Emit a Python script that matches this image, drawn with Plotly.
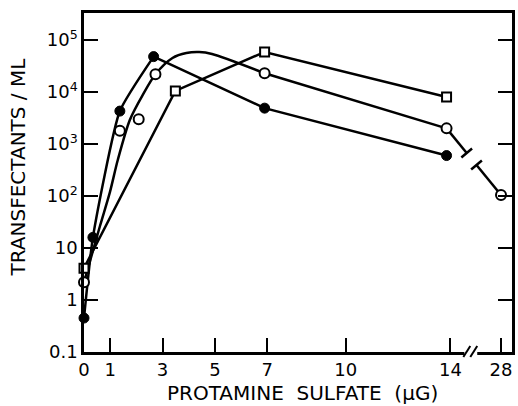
import math
import plotly.graph_objects as go

# ---------------- data ----------------
filled_x = [0, 0.34, 1.37, 2.66, 6.9, 13.85]
filled_y = [0.45, 16, 4300, 48000, 4900, 600]

open_x = [0, 1.37, 2.09, 2.73, 6.9, 13.85, 28]
open_y = [2.2, 1800, 3000, 22000, 23000, 2000, 105]

square_x = [0, 3.49, 6.9, 13.85]
square_y = [4.1, 10500, 59000, 8000]

# smooth curve drawn through the open-circle series
open_curve_x = [0, 0.61, 0.99, 1.29, 1.75, 2.24, 2.73, 3.38, 3.91, 4.40, 4.89, 6.9]
open_curve_y = [2.2, 26.5, 119, 492, 2900, 8750, 22000, 45100, 56200, 58700, 53800, 23000]

x_tick_vals = [0, 1, 3, 5, 7, 10, 14, 28]
x_tick_text = ["0", "1", "3", "5", "7", "10", "14", "28"]
y_tick_vals = [0.1, 1, 10, 100, 1000, 10000, 100000]
y_tick_text = ["0.1", "1", "10", "10<sup>2</sup>", "10<sup>3</sup>",
               "10<sup>4</sup>", "10<sup>5</sup>"]

# ---------------- broken x axis ----------------
BREAK_AT = 14.0
BROKEN_POS = 15.93      # axis position where the value 28 is drawn
X_RANGE = [0, 16.35]
Y_RANGE_LOG = [-1, 5.52]


def bx(v):
    return v if v <= BREAK_AT else BROKEN_POS + (v - 28) * 0.05


W, H = 518, 406
ML, MR, MT, MB = 84, 3, 13, 54
PW, PH = W - ML - MR, H - MT - MB


def to_px(x, y):
    px = ML + (x - X_RANGE[0]) / (X_RANGE[1] - X_RANGE[0]) * PW
    py = MT + (Y_RANGE_LOG[1] - math.log10(y)) / (Y_RANGE_LOG[1] - Y_RANGE_LOG[0]) * PH
    return px, py


def from_px(px, py):
    x = X_RANGE[0] + (px - ML) / PW * (X_RANGE[1] - X_RANGE[0])
    ly = Y_RANGE_LOG[1] - (py - MT) / PH * (Y_RANGE_LOG[1] - Y_RANGE_LOG[0])
    return x, 10 ** ly


LW = 2.5
BLACK = "black"
fig = go.Figure()

# filled circle series: smooth rise, straight decline
fig.add_trace(go.Scatter(x=[bx(v) for v in filled_x[:4]], y=filled_y[:4], mode="lines",
                         line=dict(color=BLACK, width=LW, shape="spline", smoothing=0.5),
                         cliponaxis=False, hoverinfo="skip"))
fig.add_trace(go.Scatter(x=[bx(v) for v in filled_x[3:]], y=filled_y[3:], mode="lines",
                         line=dict(color=BLACK, width=LW), cliponaxis=False, hoverinfo="skip"))

# open circle series: smooth curve, then straight lines
fig.add_trace(go.Scatter(x=open_curve_x, y=open_curve_y, mode="lines",
                         line=dict(color=BLACK, width=LW, shape="spline", smoothing=0.8),
                         cliponaxis=False, hoverinfo="skip"))
fig.add_trace(go.Scatter(x=[bx(v) for v in open_x[4:6]], y=open_y[4:6], mode="lines",
                         line=dict(color=BLACK, width=LW), cliponaxis=False, hoverinfo="skip"))

# broken segment between 14 and 28 with break strokes
p_a = to_px(bx(open_x[5]), open_y[5])
p_b = to_px(bx(open_x[6]), open_y[6])
dx, dy = p_b[0] - p_a[0], p_b[1] - p_a[1]
L = math.hypot(dx, dy)
ux, uy = dx / L, dy / L
nx, ny = uy, -ux
seg_x, seg_y = [], []
for t0, t1 in [(0.0, 0.37), (0.55, 1.0)]:
    for t in (t0, t1):
        xx, yy = from_px(p_a[0] + dx * t, p_a[1] + dy * t)
        seg_x.append(xx)
        seg_y.append(yy)
    seg_x.append(None)
    seg_y.append(None)
for t in (0.37, 0.55):
    cx, cy = p_a[0] + dx * t, p_a[1] + dy * t
    for s in (-7, 7):
        xx, yy = from_px(cx + nx * s, cy + ny * s)
        seg_x.append(xx)
        seg_y.append(yy)
    seg_x.append(None)
    seg_y.append(None)
fig.add_trace(go.Scatter(x=seg_x, y=seg_y, mode="lines", line=dict(color=BLACK, width=LW),
                         cliponaxis=False, hoverinfo="skip"))

# square series: straight lines
fig.add_trace(go.Scatter(x=[bx(v) for v in square_x], y=square_y, mode="lines",
                         line=dict(color=BLACK, width=LW), cliponaxis=False, hoverinfo="skip"))

# markers
fig.add_trace(go.Scatter(x=[bx(v) for v in square_x], y=square_y, mode="markers",
                         marker=dict(symbol="square", size=9, color="white",
                                     line=dict(color=BLACK, width=2)),
                         cliponaxis=False, hoverinfo="skip"))
fig.add_trace(go.Scatter(x=[bx(v) for v in open_x], y=open_y, mode="markers",
                         marker=dict(symbol="circle", size=10, color="white",
                                     line=dict(color=BLACK, width=2)),
                         cliponaxis=False, hoverinfo="skip"))
fig.add_trace(go.Scatter(x=[bx(v) for v in filled_x], y=filled_y, mode="markers",
                         marker=dict(symbol="circle", size=10, color=BLACK,
                                     line=dict(color=BLACK, width=1)),
                         cliponaxis=False, hoverinfo="skip"))

FONT = "DejaVu Sans"

# x-axis break: white gap and two slashes
g0 = from_px(467, 352)[0]
g1 = from_px(480, 352)[0]
shapes = [dict(type="rect", xref="x", yref="paper", x0=g0, x1=g1, y0=-0.012, y1=0.012,
               fillcolor="white", line=dict(width=0), layer="above")]
for off in (0, 7):
    xa = from_px(466 + off, 352)[0]
    xb = from_px(473 + off, 352)[0]
    shapes.append(dict(type="line", xref="x", yref="paper", x0=xa, x1=xb,
                       y0=-5 / PH, y1=6 / PH, line=dict(color=BLACK, width=2), layer="above"))

fig.update_layout(
    width=W, height=H, margin=dict(l=ML, r=MR, t=MT, b=MB),
    paper_bgcolor="white", plot_bgcolor="white", showlegend=False,
    font=dict(family=FONT, color=BLACK, size=18),
    shapes=shapes,
    xaxis=dict(range=X_RANGE, tickvals=[bx(v) for v in x_tick_vals], ticktext=x_tick_text,
               ticks="inside", ticklen=14, tickwidth=2, tickcolor=BLACK,
               showline=True, linewidth=LW, linecolor=BLACK, mirror=True,
               showgrid=False, zeroline=False, tickfont=dict(size=18)),
    yaxis=dict(type="log", range=Y_RANGE_LOG, tickvals=y_tick_vals, ticktext=y_tick_text,
               ticks="inside", ticklen=14, tickwidth=2, tickcolor=BLACK,
               showline=True, linewidth=LW, linecolor=BLACK, mirror="ticks",
               showgrid=False, zeroline=False, tickfont=dict(size=18)),
    annotations=[
        dict(text="TRANSFECTANTS / ML", xref="paper", yref="paper",
             x=(18 - ML) / PW, y=(MT + PH - 167) / PH, textangle=-90, showarrow=False,
             font=dict(size=20, family=FONT), xanchor="center", yanchor="middle"),
        dict(text="PROTAMINE  SULFATE  (μG)", xref="paper", yref="paper",
             x=(304 - ML) / PW, y=(MT + PH - 393) / PH, showarrow=False,
             font=dict(size=20, family=FONT), xanchor="center", yanchor="middle"),
    ],
)

fig.write_html("out.html", config={"displayModeBar": False},
               post_script="document.body.style.margin='0';document.body.style.padding='0';"
                           "document.documentElement.style.overflow='hidden';")
